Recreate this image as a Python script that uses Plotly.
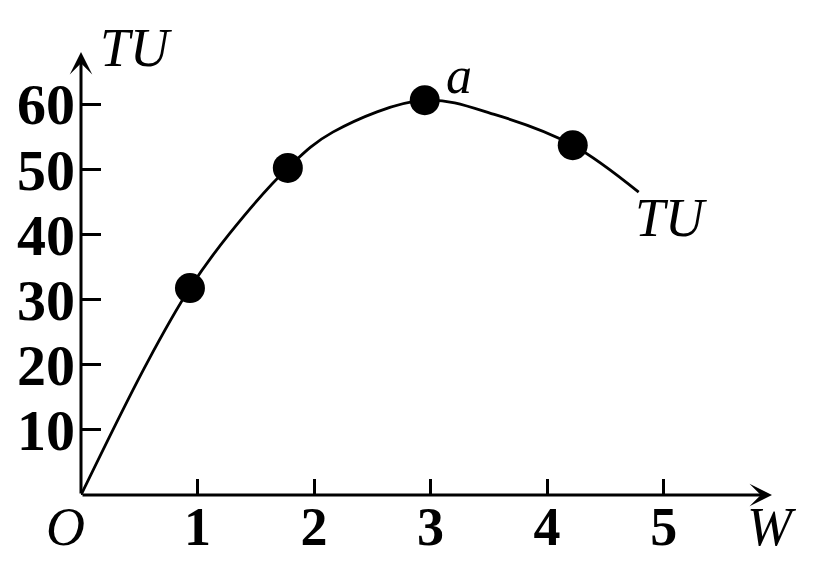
import plotly.graph_objects as go

# ---- data ----
curve_w = [0, 0.566, 0.935, 1.278, 1.775, 2.161, 2.95, 3.568, 4.22, 4.786]
curve_tu = [0, 20.25, 31.76, 40.2, 50.2, 55.7, 60.6, 58.3, 53.7, 46.5]
point_w = [0.935, 1.775, 2.95, 4.22]
point_tu = [31.76, 50.2, 60.6, 53.7]
x_ticks = [1, 2, 3, 4, 5]
y_ticks = [10, 20, 30, 40, 50, 60]

X_MAX = 5.93
Y_MAX = 68.0

serif = "Liberation Serif"


def px(x):
    return x / X_MAX


def py(y):
    return y / Y_MAX


fig = go.Figure()
fig.add_trace(go.Scatter(x=curve_w, y=curve_tu, mode="lines",
                         line=dict(color="black", width=2.8, shape="spline", smoothing=1.0),
                         cliponaxis=False, hoverinfo="skip", showlegend=False))
fig.add_trace(go.Scatter(x=point_w, y=point_tu, mode="markers",
                         marker=dict(color="black", size=30),
                         cliponaxis=False, showlegend=False))

# axis arrows
fig.add_annotation(x=X_MAX, y=0, ax=0, ay=0, xref="x", yref="y", axref="x", ayref="y",
                   text="", showarrow=True, arrowhead=3, arrowwidth=3, arrowsize=1.25,
                   arrowcolor="black")
fig.add_annotation(x=0, y=Y_MAX, ax=0, ay=0, xref="x", yref="y", axref="x", ayref="y",
                   text="", showarrow=True, arrowhead=3, arrowwidth=3, arrowsize=1.25,
                   arrowcolor="black")

ital = dict(family=serif, size=54, color="black", style="italic")
labels = [
    (0.47, 68.6, "TU", 54),
    (3.24, 64.4, "a", 52),
    (5.06, 42.5, "TU", 54),
    (5.93, -4.9, "W", 54),
    (-0.137, -4.9, "O", 54),
]
for lx, ly, txt, sz in labels:
    fig.add_annotation(x=px(lx), y=py(ly), xref="paper", yref="paper", text=txt,
                       xanchor="center", yanchor="middle",
                       showarrow=False, font=dict(ital, size=sz))

fig.update_xaxes(range=[0, X_MAX], tickvals=x_ticks, ticktext=[str(v) for v in x_ticks],
                 ticks="inside", ticklen=16, tickwidth=3, tickcolor="black", automargin=False,
                 showline=False, showgrid=False, zeroline=False, ticklabelstandoff=-5,
                 tickfont=dict(family=serif, size=54, color="black", weight="bold"))
fig.update_yaxes(range=[0, Y_MAX], tickvals=y_ticks, ticktext=[str(v) for v in y_ticks],
                 ticks="inside", ticklen=20, tickwidth=3, tickcolor="black", automargin=False,
                 showline=False, showgrid=False, zeroline=False, ticklabelstandoff=5,
                 tickfont=dict(family=serif, size=58, color="black", weight="bold"))

fig.update_layout(width=823, height=565, margin=dict(l=81, r=51, t=52, b=70),
                  plot_bgcolor="white", paper_bgcolor="white", showlegend=False)

fig.write_html("out.html", post_script="document.body.style.margin='0';",
               config={"displayModeBar": False})
